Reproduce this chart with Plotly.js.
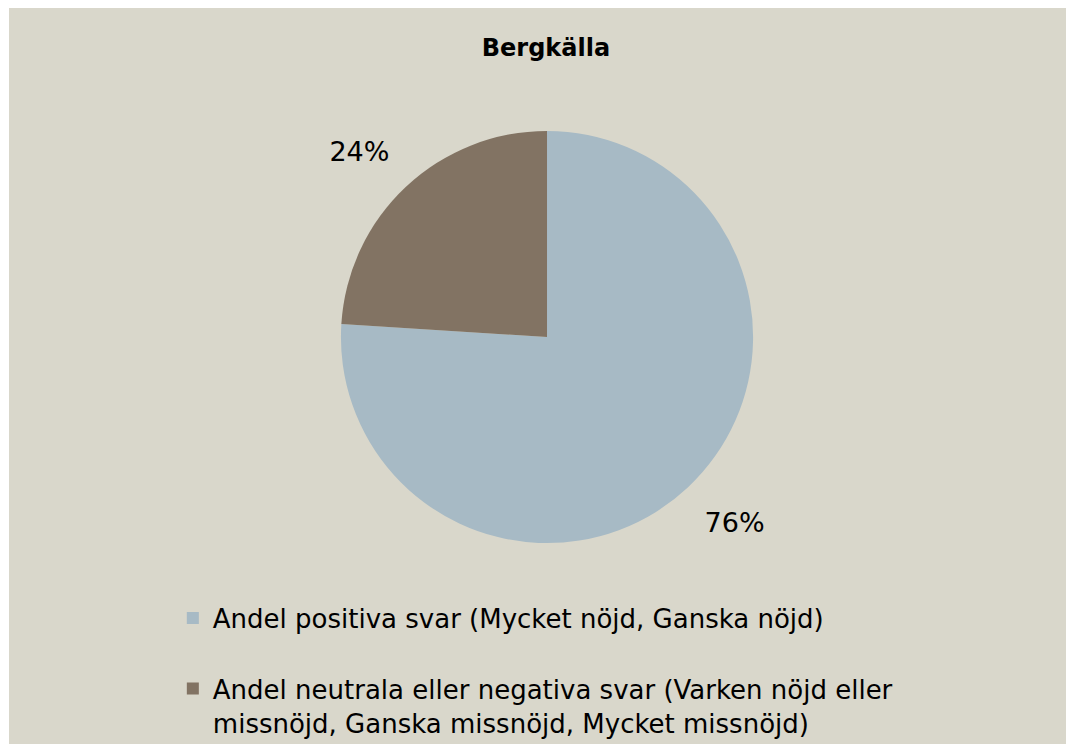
<!DOCTYPE html>
<html>
<head>
<meta charset="utf-8">
<script src="https://cdn.plot.ly/plotly-3.0.1.min.js"></script>
<style>
  html, body { margin: 0; padding: 0; background: #ffffff; overflow: hidden; }
  #chart { position: absolute; left: 9px; top: 8px; width: 1057px; height: 736px; }
</style>
</head>
<body>
<div id="chart"></div>
<script>
const chartTitle = "Bergkälla";
const categories = [
  "Andel positiva svar (Mycket nöjd, Ganska nöjd)<br> ",
  "Andel neutrala eller negativa svar (Varken nöjd eller<br>missnöjd, Ganska missnöjd, Mycket missnöjd)"
];
const values = [76, 24];
const colors = ["#A7BAC5", "#827363"];
const labelTemplates = ["\u00a0<br>%{percent:.0%}", "%{percent:.0%}<br>\u00a0"];

const trace = {
  type: "pie",
  labels: categories,
  values: values,
  marker: { colors: colors, line: { width: 0 } },
  sort: false,
  direction: "clockwise",
  rotation: 0,
  textinfo: "percent",
  texttemplate: labelTemplates,
  textposition: "outside",
  outsidetextfont: { family: "DejaVu Sans", size: 27, color: "#000000" },
  hoverinfo: "label+percent",
  domain: { x: [0.314, 0.704], y: [0.273, 0.833] },
  showlegend: true
};

const layout = {
  width: 1057,
  height: 736,
  paper_bgcolor: "#D9D7CB",
  plot_bgcolor: "#D9D7CB",
  margin: { l: 0, r: 0, t: 0, b: 0, autoexpand: false },
  title: {
    text: "<b>" + chartTitle + "</b>",
    font: { family: "DejaVu Sans", size: 24, color: "#000000" },
    x: 0.508, xref: "container", xanchor: "center",
    y: 1 - 40 / 736, yref: "container", yanchor: "middle"
  },
  legend: {
    x: 0.155, xanchor: "left",
    y: 0.203, yanchor: "top",
    valign: "top",
    font: { family: "DejaVu Sans", size: 26, color: "#000000" },
    bgcolor: "rgba(0,0,0,0)",
    traceorder: "normal"
  },
  font: { family: "DejaVu Sans" }
};

Plotly.newPlot("chart", [trace], layout, { displayModeBar: false, staticPlot: true });
</script>
</body>
</html>
